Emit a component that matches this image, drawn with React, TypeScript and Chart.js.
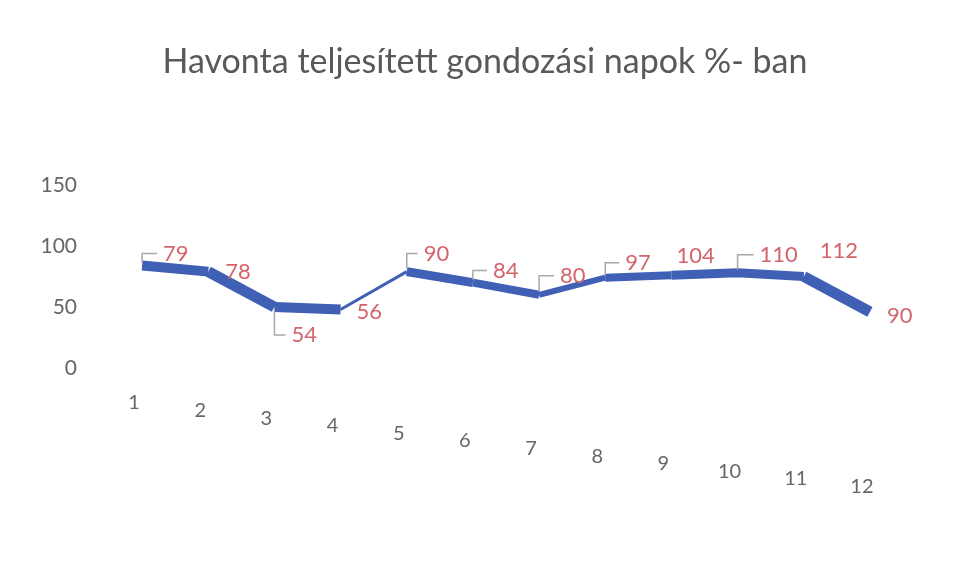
import React, { useEffect, useRef } from "react";
import { Chart, registerables } from "chart.js";

Chart.register(...registerables);

// ---- data ----
const months = ["1", "2", "3", "4", "5", "6", "7", "8", "9", "10", "11", "12"];
// line positions as drawn in the picture
const lineValues = [84, 79, 50, 48, 79, 70, 60, 74, 76, 78, 75, 46];
// data label texts shown next to each point
const labelValues = [79, 78, 54, 56, 90, 84, 80, 97, 104, 110, 112, 90];
const yMin = 0;
const yMax = 150;
const yStep = 50;
const TITLE = "Havonta teljesített gondozási napok %- ban";

// ---- styles ----
const LINE_COLOR = "#4060b6";
const LABEL_COLOR = "#d4646c";
const TEXT_GRAY = "#666666";
const FONT = "Lato, 'Open Sans', sans-serif";
const segmentWidths = [10, 11, 10, 3, 9, 8, 6, 8, 9, 9, 11];
const labelOffsets: [number, number][] = [
  [21, -12], [17, 0], [17, 28], [16, 2], [17, -18], [20, -12],
  [21, -19], [20, -15], [5, -19], [22, -18], [16, -26], [17, 4],
];
const leaders = [true, false, true, false, true, true, true, true, false, true, false, false];
const xLabelDrop = 7.6;

const labelPlugin = {
  id: "customLabels",
  afterDatasetsDraw(chart: any) {
    const ctx = chart.ctx;
    const meta = chart.getDatasetMeta(0);
    ctx.save();
    // title
    ctx.fillStyle = "#595959";
    ctx.font = `34px ${FONT}`;
    ctx.textAlign = "center";
    ctx.textBaseline = "middle";
    ctx.fillText(TITLE, 485, 62);

    meta.data.forEach((pt: any, i: number) => {
      const [dx, dy] = labelOffsets[i];
      const tx = pt.x + dx;
      const ty = pt.y + dy;
      if (leaders[i]) {
        ctx.strokeStyle = "#a8a8a8";
        ctx.lineWidth = 1.5;
        ctx.beginPath();
        const startY = dy < 0 ? pt.y - 3 : pt.y + 3;
        ctx.moveTo(pt.x, startY);
        ctx.lineTo(pt.x, ty);
        ctx.lineTo(tx - 6, ty);
        ctx.stroke();
      }
      ctx.fillStyle = LABEL_COLOR;
      ctx.font = `22px ${FONT}`;
      ctx.textAlign = "left";
      ctx.textBaseline = "middle";
      ctx.fillText(String(labelValues[i]), tx, ty);
    });
    // staggered category labels
    const xs = chart.scales.x;
    const base = chart.chartArea.bottom + 35;
    ctx.fillStyle = TEXT_GRAY;
    ctx.font = `20px ${FONT}`;
    ctx.textAlign = "center";
    ctx.textBaseline = "middle";
    months.forEach((m, i) => {
      ctx.fillText(m, xs.getPixelForValue(i) - 8, base + i * xLabelDrop);
    });
    ctx.restore();
  },
};

export default function App() {
  const ref = useRef<HTMLCanvasElement | null>(null);
  useEffect(() => {
    if (!ref.current) return;
    const chart = new Chart(ref.current, {
      type: "line",
      data: {
        labels: months,
        datasets: [
          {
            data: lineValues,
            borderColor: LINE_COLOR,
            backgroundColor: LINE_COLOR,
            borderWidth: 9,
            pointRadius: 0,
            tension: 0,
            borderCapStyle: "butt",
            borderJoinStyle: "miter",
            segment: {
              borderWidth: (c: any) => segmentWidths[c.p0DataIndex] ?? 9,
            },
          } as any,
        ],
      },
      options: {
        animation: false,
        responsive: true,
        maintainAspectRatio: false,
        layout: { padding: { left: 0, right: 50, top: 185, bottom: 0 } },
        plugins: {
          legend: { display: false },
          tooltip: { enabled: false },
          title: { display: false },
        },
        scales: {
          x: {
            offset: true,
            grid: { display: false, drawTicks: false },
            border: { display: false },
            ticks: { display: false },
            afterFit: (s: any) => {
              s.height = 209;
            },
          },
          y: {
            min: yMin,
            max: yMax,
            grid: { display: false, drawTicks: false },
            border: { display: false },
            ticks: {
              stepSize: yStep,
              color: TEXT_GRAY,
              padding: 32,
              font: { family: FONT, size: 21 },
            },
            afterFit: (s: any) => {
              s.width = 109;
            },
          },
        },
      },
      plugins: [labelPlugin],
    });
    return () => chart.destroy();
  }, []);
  return (
    <div style={{ position: "fixed", left: 0, top: 0, width: 953, height: 577, background: "#fff" }}>
      <canvas ref={ref} />
    </div>
  );
}
